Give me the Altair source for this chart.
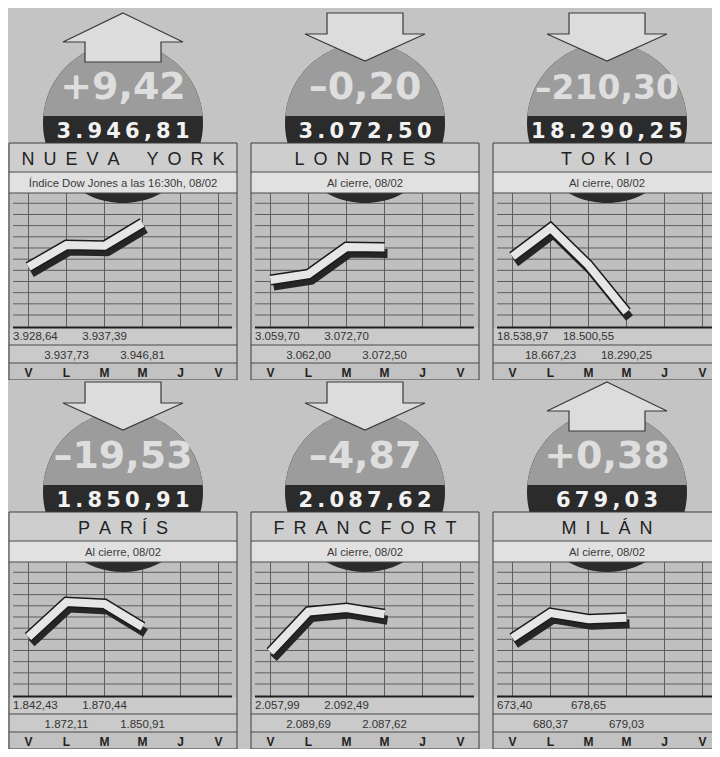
import altair as alt
import pandas as pd

# ---------------- data ----------------
days = ["V", "L", "M", "M", "J", "V"]
cities = ["NUEVA YORK", "LONDRES", "TOKIO", "PARÍS", "FRANCFORT", "MILÁN"]
subtitles = ["Índice Dow Jones a las 16:30h, 08/02", "Al cierre, 08/02", "Al cierre, 08/02",
             "Al cierre, 08/02", "Al cierre, 08/02", "Al cierre, 08/02"]
closing = [3946.81, 3072.50, 18290.25, 1850.91, 2087.62, 679.03]
change = [9.42, -0.20, -210.30, -19.53, -4.87, 0.38]
nueva_york = [3928.64, 3937.73, 3937.39, 3946.81]
londres = [3059.70, 3062.00, 3072.70, 3072.50]
tokio = [18538.97, 18667.23, 18500.55, 18290.25]
paris = [1842.43, 1872.11, 1870.44, 1850.91]
francfort = [2057.99, 2089.69, 2092.49, 2087.62]
milan = [673.40, 680.37, 678.65, 679.03]
series = [nueva_york, londres, tokio, paris, francfort, milan]

# ---------------- layout / style ----------------
# pixel rows (within a panel) where the lowest / highest value of each line sits
LINE_SPAN = [(259, 215), (272, 239), (304, 220), (260, 225), (275, 231), (261, 236)]
PANEL_W = [242, 242, 220]
PANEL_H = [372, 369]
ROW_SHIFT = [0, 3]
C0, PITCH = 20.5, 38.0
CX, CY, R = 115, 115, 80
BAND_TOP = 108

BG = "#c4c4c4"
GRID_BG = "#bfbfbf"
TITLE_BG = "#cecece"
SUB_BG = "#e1e1e1"
ROW_BG = "#cacaca"
DAY_BG = "#c2c2c2"
CIRCLE_GRAY = "#9c9c9c"
BAND = "#2b2b2b"
ARROW_FILL = "#dcdcdc"
INK = "#222222"
GRIDLINE = "#5e5e5e"

NARROW = "Liberation Sans Narrow, Arial Narrow, Liberation Sans, sans-serif"
SANS = "Liberation Sans, Arial, sans-serif"
WIDE = "DejaVu Sans, Verdana, sans-serif"

half = (R ** 2 - (BAND_TOP - CY) ** 2) ** 0.5
CIRCLE = f"M-{R},0A{R},{R} 0 1,1 {R},0A{R},{R} 0 1,1 -{R},0Z"
CAP = f"M-{half:.2f},{BAND_TOP - CY}A{R},{R} 0 0,1 {half:.2f},{BAND_TOP - CY}Z"
UP = "M0,5L60,34L38,34L38,54L-38,54L-38,34L-60,34Z"
DOWN = "M-38,5L38,5L38,26L60,26L0,53L-60,26L-38,26Z"


def es(v):
    s = f"{abs(v):,.2f}"
    return s.replace(",", "~").replace(".", ",").replace("~", ".")


def spaced(text):
    words = text.split(" ")
    return ("\u2002" * 3).join("\u2002".join(list(w)) for w in words)


def panel(i, W, H, o):
    PX = alt.Scale(domain=[0, W], nice=False, zero=False)
    PY = alt.Scale(domain=[H + o, o], nice=False, zero=False)
    i0, i1 = -C0 / PITCH, (W - C0) / PITCH
    DX = alt.Scale(domain=[i0, i1], nice=False, zero=False)

    def X(f="x"):
        return alt.X(f + ":Q", scale=PX, axis=None)

    def Y(f="y"):
        return alt.Y(f + ":Q", scale=PY, axis=None)

    def D(f="d", scale=DX):
        return alt.X(f + ":Q", scale=scale, axis=None)

    layers = []
    # background bands of the panel
    back = pd.DataFrame([
        dict(x=1, x2=229, y=185, y2=320, c=GRID_BG),
        dict(x=1, x2=229, y=320, y2=355, c=ROW_BG),
        dict(x=1, x2=229, y=355, y2=372, c=DAY_BG),
    ])
    layers.append(alt.Chart(back).mark_rect(clip=True).encode(
        x=X(), x2="x2", y=Y(), y2="y2", color=alt.Color("c:N", scale=None)))
    # horizontal grid lines
    hl = pd.DataFrame({"y": [195.3 + 11.17 * k for k in range(11)], "x": 5, "x2": 224})
    layers.append(alt.Chart(hl).mark_rule(clip=True, color=GRIDLINE, strokeWidth=1).encode(
        x=X(), x2="x2", y=Y()))
    # vertical grid lines (one per day)
    vl = pd.DataFrame({"d": list(range(len(days))), "y": 185, "y2": 319})
    layers.append(alt.Chart(vl).mark_rule(clip=True, color=GRIDLINE, strokeWidth=1).encode(
        x=D(), y=Y(), y2="y2"))
    # circle with dark band
    cdf = pd.DataFrame({"x": [CX], "y": [CY]})
    layers.append(alt.Chart(cdf).mark_point(clip=True, shape=CIRCLE, filled=True, fill=BAND,
                                            size=4, opacity=1, strokeWidth=0).encode(x=X(), y=Y()))
    layers.append(alt.Chart(cdf).mark_point(clip=True, shape=CAP, filled=True, fill=CIRCLE_GRAY,
                                            size=4, opacity=1, strokeWidth=0).encode(x=X(), y=Y()))
    # title & subtitle boxes
    tb = pd.DataFrame([
        dict(x=1, x2=229, y=135, y2=164, c=TITLE_BG),
        dict(x=1, x2=229, y=164, y2=185, c=SUB_BG),
    ])
    layers.append(alt.Chart(tb).mark_rect(clip=True).encode(
        x=X(), x2="x2", y=Y(), y2="y2", color=alt.Color("c:N", scale=None)))
    # separators
    sep = pd.DataFrame({"y": [164, 185, 337, 355], "x": 1, "x2": 229})
    layers.append(alt.Chart(sep).mark_rule(clip=True, color="#4a4a4a", strokeWidth=1).encode(
        x=X(), x2="x2", y=Y()))
    thick = pd.DataFrame({"y": [319.5], "x": [5], "x2": [224]})
    layers.append(alt.Chart(thick).mark_rule(clip=True, color="#1e1e1e", strokeWidth=2).encode(
        x=X(), x2="x2", y=Y()))
    border = pd.DataFrame([dict(x=1, x2=229, y=135, y2=372)])
    layers.append(alt.Chart(border).mark_rect(clip=True, fillOpacity=0, stroke="#3c3c3c",
                                              strokeWidth=1).encode(x=X(), x2="x2", y=Y(), y2="y2"))
    # arrow
    adf = pd.DataFrame({"x": [CX], "y": [0]})
    layers.append(alt.Chart(adf).mark_point(clip=True, shape=UP if change[i] > 0 else DOWN,
                                            filled=True, fill=ARROW_FILL, stroke="#3a3a3a",
                                            strokeWidth=1.2, size=4, opacity=1).encode(x=X(), y=Y()))
    # change & closing value
    ch = ("+" if change[i] > 0 else "\u2013") + es(change[i])
    chdf = pd.DataFrame({"x": [CX], "y": [91], "t": [ch]})
    layers.append(alt.Chart(chdf).mark_text(clip=True, font=WIDE, fontWeight="bold",
                                            fontSize=38 if len(ch) <= 6 else 33, color="#dedede",
                                            align="center", baseline="alphabetic").encode(
        x=X(), y=Y(), text="t:N"))
    cl = "\u2009".join(list(es(closing[i])))
    cldf = pd.DataFrame({"x": [CX], "y": [130], "t": [cl]})
    layers.append(alt.Chart(cldf).mark_text(clip=True, font=WIDE, fontWeight="bold", fontSize=21,
                                            color="#f2f2f2", align="center",
                                            baseline="alphabetic").encode(x=X(), y=Y(), text="t:N"))
    # title and subtitle text
    tt = pd.DataFrame({"x": [115], "y": [157], "t": [spaced(cities[i])]})
    layers.append(alt.Chart(tt).mark_text(clip=True, font=SANS, fontSize=18, color=INK,
                                          align="center", baseline="alphabetic").encode(
        x=X(), y=Y(), text="t:N"))
    st = pd.DataFrame({"x": [115], "y": [178.5], "t": [subtitles[i]]})
    layers.append(alt.Chart(st).mark_text(clip=True, font=NARROW, fontSize=11.3, color="#3a3a3a",
                                          align="center", baseline="alphabetic").encode(
        x=X(), y=Y(), text="t:N"))
    # value labels under the chart
    vals = series[i]
    first = pd.DataFrame({"d": [0], "y": [332], "t": [es(vals[0])]})
    layers.append(alt.Chart(first).mark_text(clip=True, font=NARROW, fontSize=11.5, color="#333333",
                                             align="left", dx=-15.5, baseline="alphabetic").encode(
        x=D(), y=Y(), text="t:N"))
    rest = pd.DataFrame({"d": [1, 2, 3], "y": [351, 332, 351], "t": [es(v) for v in vals[1:]]})
    layers.append(alt.Chart(rest).mark_text(clip=True, font=NARROW, fontSize=11.5, color="#333333",
                                            align="center", baseline="alphabetic").encode(
        x=D(), y=Y(), text="t:N"))
    # day labels
    dl = pd.DataFrame({"d": list(range(len(days))), "y": 368.5, "t": days})
    layers.append(alt.Chart(dl).mark_text(clip=True, font=SANS, fontWeight="bold", fontSize=12,
                                          color="#222222", align="center",
                                          baseline="alphabetic").encode(x=D(), y=Y(), text="t:N"))
    # the ribbon line (shadow, outline, fill)
    pmin, pmax = LINE_SPAN[i]
    pmin, pmax = pmin - o, pmax - o
    vmin, vmax = min(vals), max(vals)
    k = (pmin - pmax) / (vmax - vmin)
    hi = vmax + pmax / k
    lo = hi - H / k
    ld = pd.DataFrame({"d": list(range(len(vals))), "v": vals})
    sh_dx = alt.Scale(domain=[i0 - 3 / PITCH, i1 - 3 / PITCH], nice=False, zero=False)
    sh_y = alt.Scale(domain=[lo + 6 / k, hi + 6 / k], nice=False, zero=False)
    vy = alt.Scale(domain=[lo, hi], nice=False, zero=False)
    layers.append(alt.Chart(ld).mark_line(clip=True, color="#262626", strokeWidth=9,
                                          strokeCap="butt", strokeJoin="miter").encode(
        x=D(scale=sh_dx), y=alt.Y("v:Q", scale=sh_y, axis=None)))
    layers.append(alt.Chart(ld).mark_line(clip=True, color="#1a1a1a", strokeWidth=11,
                                          strokeCap="butt", strokeJoin="miter").encode(
        x=D(), y=alt.Y("v:Q", scale=vy, axis=None)))
    layers.append(alt.Chart(ld).mark_line(clip=True, color="#e6e6e6", strokeWidth=8,
                                          strokeCap="butt", strokeJoin="miter").encode(
        x=D(), y=alt.Y("v:Q", scale=vy, axis=None)))

    return alt.layer(*layers).resolve_scale(x="independent", y="independent").properties(
        width=W, height=H)


rows = []
for r in range(2):
    rows.append(alt.hconcat(*[panel(r * 3 + c, PANEL_W[c], PANEL_H[r], ROW_SHIFT[r])
                              for c in range(3)], spacing=0))
chart = alt.vconcat(*rows, spacing=0).properties(padding=0, background=BG).configure_view(
    stroke=None)

chart.save("out.html", embed_options={"renderer": "svg", "actions": False})
